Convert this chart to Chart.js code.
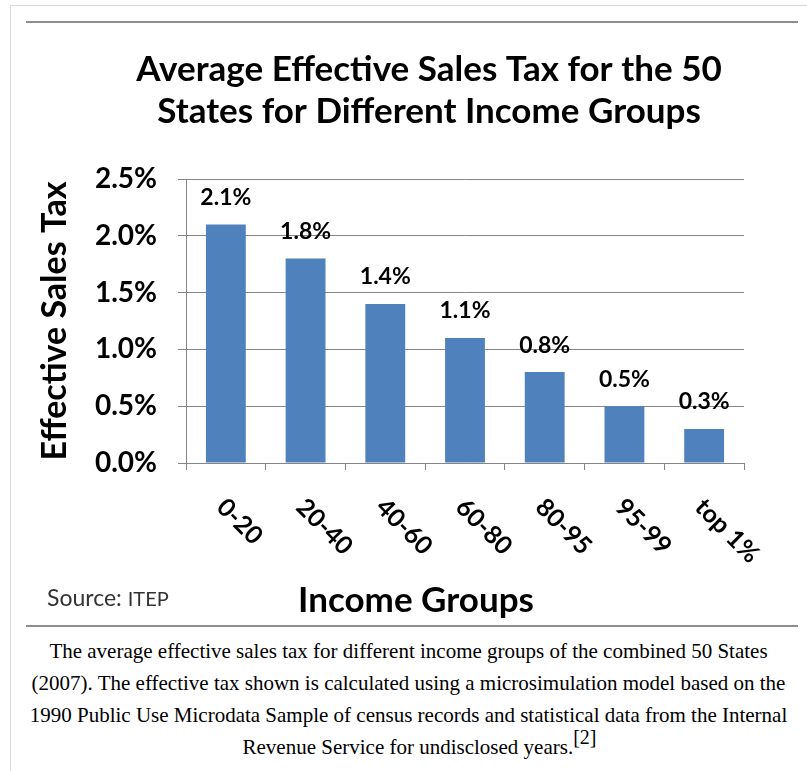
<!DOCTYPE html>
<html>
<head>
<meta charset="utf-8">
<script src="https://cdn.jsdelivr.net/npm/chart.js@4"></script>
<style>
  html, body { margin: 0; padding: 0; background: #fff; overflow: hidden; }
  body { width: 807px; height: 771px; position: relative; }
  #frame { position: absolute; left: 10px; top: 5px; width: 840px; height: 820px; border: 1px solid #d9d9d9; }
  .rule { position: absolute; left: 26px; width: 772px; height: 2px; background: #8c8c8c; }
  #chartBox { position: absolute; left: 26px; top: 23px; width: 806px; height: 602px; }
  #caption { position: absolute; left: 10px; width: 797px; top: 635px; text-align: center;
    font-family: "Liberation Serif", "Times New Roman", serif; font-size: 21px; line-height: 32px; color: #000; }
  #caption sup { font-size: 20px; vertical-align: 10px; line-height: 0; }
  #caption .last { padding-left: 22px; }
</style>
</head>
<body>
<div id="frame"></div>
<div class="rule" style="top:21px"></div>
<div class="rule" style="top:625px"></div>
<div id="chartBox"><canvas id="chart" width="806" height="602"></canvas></div>
<div id="caption">The average effective sales tax for different income groups of the combined 50 States<br>(2007). The effective tax shown is calculated using a microsimulation model based on the<br>1990 Public Use Microdata Sample of census records and statistical data from the Internal<br><span class="last">Revenue Service for undisclosed years.<sup>[2]</sup></span></div>
<script>
/*
DATA
*/
const groups = ['0-20', '20-40', '40-60', '60-80', '80-95', '95-99', 'top 1%'];
const taxRates = [2.1, 1.8, 1.4, 1.1, 0.8, 0.5, 0.3];
const yTicks = [0, 0.5, 1.0, 1.5, 2.0, 2.5];

const titleLines = ['Average Effective Sales Tax for the 50', 'States for Different Income Groups'];
const yTitle = 'Effective Sales Tax';
const xTitle = 'Income Groups';
const sourceNote = 'Source:';
const sourceName = 'ITEP';

const FONT = 'Lato, "Open Sans", sans-serif';
const BAR_BLUE = '#4f81bd';
const GRID_GRAY = '#868686';

//extra texts: rotated group labels, values over bars, x title, source
const extraText = {
  id: 'extraText',
  afterDatasetsDraw(chart) {
    const ctx = chart.ctx;
    const x = chart.scales.x;
    const y = chart.scales.y;
    ctx.save();
    ctx.fillStyle = '#000';

    // values over bars
    ctx.font = 'bold 23px ' + FONT;
    ctx.textAlign = 'center';
    ctx.textBaseline = 'middle';
    taxRates.forEach((v, i) => {
      ctx.fillText(v.toFixed(1) + '%', x.getPixelForValue(i), y.getPixelForValue(v) - 27);
    });

    // group labels, turned 45 deg clockwise
    ctx.font = 'bold 25px ' + FONT;
    ctx.textAlign = 'left';
    groups.forEach((g, i) => {
      ctx.save();
      ctx.translate(x.getPixelForValue(i) - 5, x.top + 40);
      ctx.rotate(Math.PI / 4);
      ctx.fillText(g, 0, 0);
      ctx.restore();
    });

    // x title
    ctx.font = 'bold 35px ' + FONT;
    ctx.textAlign = 'center';
    ctx.fillText(xTitle, 390, 578);

    // source
    ctx.textAlign = 'left';
    ctx.fillStyle = '#333';
    ctx.font = '23px ' + FONT;
    ctx.fillText(sourceNote, 21, 576);
    let w = ctx.measureText(sourceNote + ' ').width;
    ctx.font = '20px ' + FONT;
    ctx.fillText(sourceName, 21 + w, 577);
    ctx.restore();
  }
};

let chart = new Chart(document.getElementById('chart'), {
  type: 'bar',
  data: {
    labels: groups,
    datasets: [{
      data: taxRates,
      backgroundColor: BAR_BLUE,
      borderWidth: 0,
      categoryPercentage: 1,
      barPercentage: 0.5
    }]
  },
  options: {
    responsive: false,
    animation: false,
    events: [],
    plugins: {
      legend: { display: false },
      tooltip: { enabled: false },
      title: {
        display: true,
        text: titleLines,
        color: '#000',
        font: { family: FONT, size: 35, weight: 'bold', lineHeight: 1.2 },
        padding: { top: 26, bottom: 46 }
      }
    },
    scales: {
      x: {
        grid: { drawOnChartArea: false, drawTicks: true, tickLength: 7, color: GRID_GRAY },
        border: { color: GRID_GRAY },
        ticks: { display: false },
        afterFit: (scale) => { scale.height = 162; }
      },
      y: {
        min: 0,
        max: 2.5,
        afterBuildTicks: (scale) => { scale.ticks = yTicks.map(v => ({ value: v })); },
        grid: { color: GRID_GRAY, tickLength: 8 },
        border: { color: GRID_GRAY },
        ticks: {
          padding: 21,
          color: '#000',
          font: { family: FONT, size: 28, weight: 'bold' },
          callback: (v) => v.toFixed(1) + '%'
        },
        title: {
          display: true,
          text: yTitle,
          color: '#000',
          font: { family: FONT, size: 34, weight: 'bold', lineHeight: 1 },
          padding: { top: 12, bottom: 0 }
        },
        afterFit: (scale) => { scale.width = 160; }
      },
      // empty right side, keeps plot right edge where the original has it
      yRight: {
        position: 'right',
        display: true,
        grid: { display: false },
        border: { display: false },
        ticks: { display: false },
        afterFit: (scale) => { scale.width = 88; }
      }
    }
  },
  plugins: [extraText]
});
</script>
</body>
</html>
